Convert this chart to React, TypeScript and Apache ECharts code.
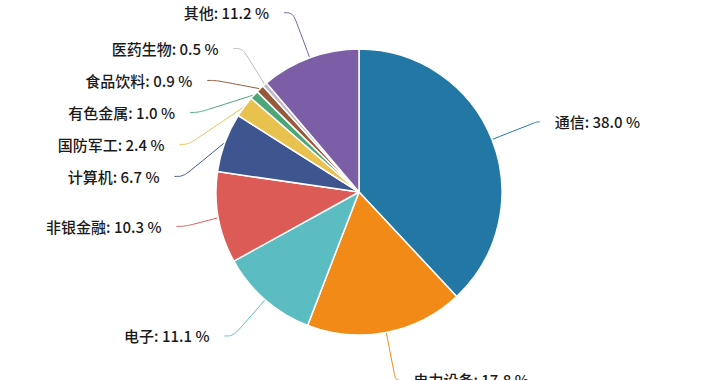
import React, { useEffect, useRef } from "react";
import * as echarts from "echarts";

const categories = ["通信", "电力设备", "电子", "非银金融", "计算机", "国防军工", "有色金属", "食品饮料", "医药生物", "其他"];
const shares = [38.0, 17.8, 11.1, 10.3, 6.7, 2.4, 1.0, 0.9, 0.5, 11.2];
const colors = ["#2277a5", "#f28a17", "#5bbcc2", "#dc5b57", "#3e5590", "#e8c14f", "#4ea577", "#96593a", "#c0b6cc", "#7b5ea6"];

export default function App() {
  const ref = useRef<HTMLDivElement>(null);
  useEffect(() => {
    if (!ref.current) return;
    const chart = echarts.init(ref.current, undefined, { renderer: "svg" });
    const total = shares.reduce((a, b) => a + b, 0);
    let acc = 0;
    const data = categories.map((name, i) => {
      const mid = (acc + shares[i] / 2) / total;
      acc += shares[i];
      const rightSide = mid < 0.5;
      return {
        name,
        value: shares[i],
        itemStyle: { color: colors[i] },
        labelLine: { length2: rightSide ? 3 : 9 },
      };
    });
    chart.setOption({
      animation: false,
      backgroundColor: "#ffffff",
      series: [
        {
          type: "pie",
          center: [359, 222],
          radius: [0, 143],
          startAngle: 90,
          clockwise: true,
          avoidLabelOverlap: true,
          data,
          itemStyle: { borderColor: "#ffffff", borderWidth: 1.5 },
          label: {
            show: true,
            formatter: (p: any) => `${p.name}: ${Number(p.value).toFixed(1)} %`,
            fontFamily: "'Noto Sans CJK SC', 'Noto Sans', sans-serif",
            fontSize: 15,
            fontWeight: 500,
            color: "#1a1a1a",
            lineHeight: 30,
            distanceToLabelLine: 15,
          },
          labelLine: {
            show: true,
            length: 48,
            length2: 3,
            smooth: 0.4,
            lineStyle: { width: 1 },
          },
        },
      ],
    });
    return () => chart.dispose();
  }, []);
  return (
    <div style={{ position: "absolute", left: 0, top: 0, width: 720, height: 380, overflow: "hidden", background: "#fff" }}>
      <div ref={ref} style={{ position: "absolute", left: 0, top: -30, width: 720, height: 440 }} />
    </div>
  );
}
